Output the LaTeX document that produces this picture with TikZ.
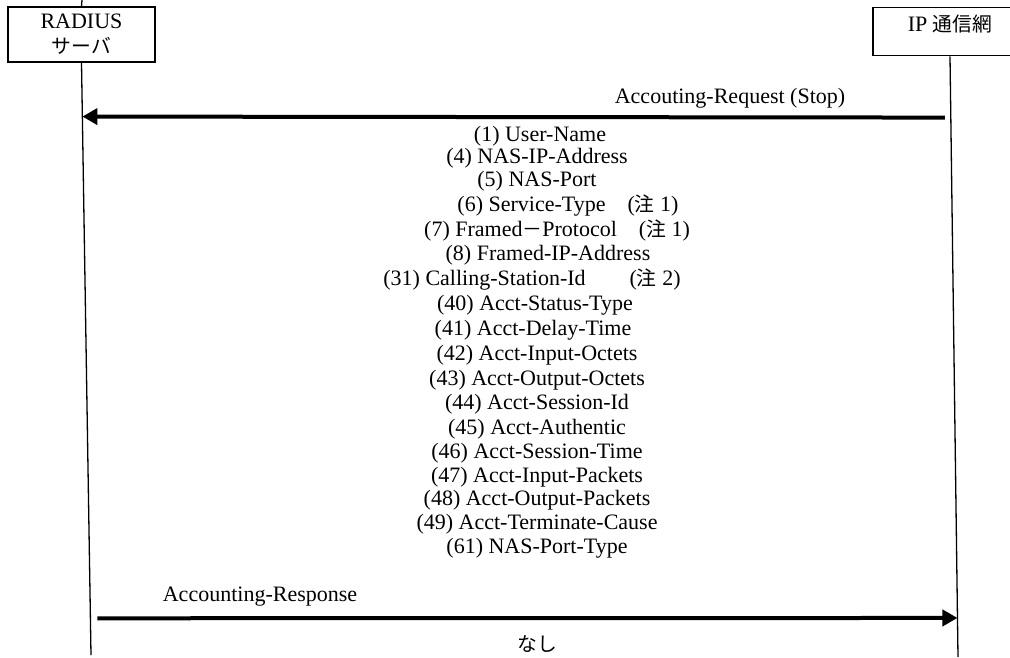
\documentclass[tikz,border=0pt]{standalone}
\usepackage{fontspec}
\setmainfont{Liberation Serif}
\newfontfamily\jpfont[Scale=0.9]{Noto Sans CJK JP}
\usetikzlibrary{arrows.meta,calc}

\begin{document}
\begin{tikzpicture}[x=1pt,y=-1pt,
    lbl/.style={font=\fontsize{22}{25}\selectfont,inner sep=0pt},
    attr/.style={lbl,anchor=base},
    box/.style={draw,line width=1.3pt,fill=white,inner sep=0pt,align=center,
                font=\fontsize{22}{25}\selectfont},
    life/.style={line width=1.3pt},
    msg/.style={line width=4pt,-{Triangle[length=15pt,width=16pt]}}]
    \useasboundingbox (0,0) rectangle (1010,657);
    % parties
    \coordinate (lstub) at (82,0);
    \coordinate (lbot) at (91,655);
    \coordinate (rbot) at (958,657);
    \node[box,minimum width=147pt,minimum height=55pt] (radius) at (81.5,34.5)
      {RADIUS\\{\jpfont サーバ}};
    \node[box,anchor=north,minimum width=154pt,text height=24pt,text depth=24pt]
      (ipnet) at (950,7) {IP {\jpfont 通信網}};
    \draw[life] (radius.north) -- (lstub);
    \draw[life] (radius.south) -- (lbot);
    \draw[life] (ipnet.south) -- (rbot);
    % request
    \coordinate (reqs) at ($(ipnet.south)!0.102!(rbot)$);
    \coordinate (reqe) at ($(radius.south)!0.091!(lbot)$);
    \draw[msg,shorten <=6pt] (reqs) -- (reqe);
    \node[attr] (req) at (730,103) {Accouting-Request (Stop)};
    % attributes
    \node[attr] (a1)  at (540,141) {(1) User-Name};
    \node[attr] (a4)  at (537,163) {(4) NAS-IP-Address};
    \node[attr] (a5)  at (537,186) {(5) NAS-Port};
    \node[attr] (a6)  at (568,211) {(6) Service-Type\quad({\jpfont 注} 1)};
    \node[attr] (a7)  at (557,236) {(7) Framed{\jpfont －}Protocol\quad({\jpfont 注} 1)};
    \node[attr] (a8)  at (548,260) {(8) Framed-IP-Address};
    \node[attr] (a31) at (532,285) {(31) Calling-Station-Id\qquad({\jpfont 注} 2)};
    \node[attr] (a40) at (535,310) {(40) Acct-Status-Type};
    \node[attr] (a41) at (533,335) {(41) Acct-Delay-Time};
    \node[attr] (a42) at (537,360) {(42) Acct-Input-Octets};
    \node[attr] (a43) at (537,385) {(43) Acct-Output-Octets};
    \node[attr] (a44) at (537,409) {(44) Acct-Session-Id};
    \node[attr] (a45) at (537,434) {(45) Acct-Authentic};
    \node[attr] (a46) at (537,458) {(46) Acct-Session-Time};
    \node[attr] (a47) at (537,482) {(47) Acct-Input-Packets};
    \node[attr] (a48) at (537,505) {(48) Acct-Output-Packets};
    \node[attr] (a49) at (537,529) {(49) Acct-Terminate-Cause};
    \node[attr] (a61) at (537,553) {(61) NAS-Port-Type};
    % response
    \coordinate (ress) at ($(radius.south)!0.938!(lbot)$);
    \coordinate (rese) at ($(ipnet.south)!0.935!(rbot)$);
    \draw[msg,shorten <=7pt] (ress) -- (rese);
    \node[attr] (res) at (260,601) {Accounting-Response};
    \node[lbl] (none) at (537,644) {\jpfont なし};
\end{tikzpicture}
\end{document}
